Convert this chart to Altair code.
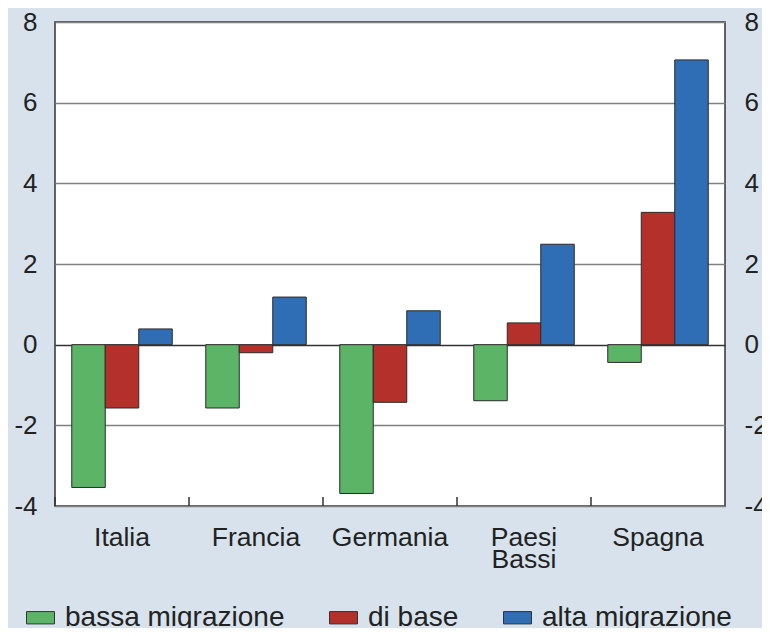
import altair as alt
import pandas as pd

paesi = ["Italia", "Francia", "Germania", "Paesi Bassi", "Spagna"]
scenari = ["bassa migrazione", "di base", "alta migrazione"]
bassa = [-3.54, -1.57, -3.69, -1.39, -0.44]
base = [-1.57, -0.20, -1.43, 0.54, 3.28]
alta = [0.39, 1.18, 0.84, 2.49, 7.06]
y_ticks = [-4, -2, 0, 2, 4, 6, 8]
colori = ["#5cb567", "#b3302b", "#2f6db5"]

rows = []
for i, p in enumerate(paesi):
    for s, vals in zip(scenari, [bassa, base, alta]):
        rows.append({"paese": p, "scenario": s, "valore": vals[i]})
df = pd.DataFrame(rows)
df_paesi = pd.DataFrame({"paese": paesi})

FONT = "Liberation Sans"
TXT = "#222222"
W, H = 670, 484
STEP = W / 5
GAP = 0.125 * STEP

xscale = alt.Scale(domain=paesi, paddingInner=0.25, paddingOuter=0.125)
yscale = alt.Scale(domain=[-4, 8], nice=False, zero=False)

x_axis = alt.Axis(
    title=None, labelAngle=0, ticks=False, domain=False, grid=False,
    labelFontSize=26.5, labelPadding=18, labelLineHeight=22,
    labelBaseline="top", labelLimit=0,
    labelExpr="datum.label == 'Paesi Bassi' ? ['Paesi', 'Bassi'] : datum.label",
)

bars = alt.Chart(df).mark_bar(stroke="#2b2b2b", strokeWidth=1, opacity=1).encode(
    x=alt.X("paese:N", scale=xscale, sort=paesi, axis=x_axis),
    xOffset=alt.XOffset("scenario:N", sort=scenari,
                        scale=alt.Scale(domain=scenari, paddingInner=0, paddingOuter=0)),
    y=alt.Y(
        "valore:Q", scale=yscale,
        axis=alt.Axis(
            title=None, orient="left", values=y_ticks, grid=True,
            gridColor=alt.condition("datum.value === 0", alt.value("#333333"), alt.value("#808080")),
            gridWidth=1.5, ticks=False, domain=False, labelPadding=18, labelFontSize=26,
            labelExpr="datum.value + ''",
        ),
    ),
    color=alt.Color(
        "scenario:N", sort=scenari, scale=alt.Scale(domain=scenari, range=colori),
        legend=alt.Legend(
            title=None, orient="none", legendX=-29, legendY=581, direction="horizontal",
            symbolType="M-1,-0.44H1V0.44H-1Z", symbolSize=784,
            symbolStrokeColor="#333333", symbolStrokeWidth=1, symbolOpacity=1,
            labelFontSize=28, labelOffset=10, columnPadding=42, labelLimit=0,
            labelFont=FONT, labelColor=TXT,
        ),
    ),
)

right = alt.Chart(df).mark_bar(opacity=0).encode(
    x=alt.X("paese:N", scale=xscale, sort=paesi, axis=x_axis),
    xOffset=alt.XOffset("scenario:N", sort=scenari),
    y=alt.Y(
        "valore:Q", scale=yscale,
        axis=alt.Axis(
            title=None, orient="right", values=y_ticks, grid=False,
            ticks=False, domain=False, labelPadding=19, labelFontSize=26,
            labelExpr="datum.value + ''",
        ),
    ),
)

ticks = alt.Chart(df_paesi).mark_rule(color="#333333", strokeWidth=1.5, xOffset=-GAP).encode(
    x=alt.X("paese:N", scale=xscale, sort=paesi, axis=x_axis, bandPosition=0),
    y=alt.value(H),
    y2=alt.value(H - 9),
)

chart = (
    alt.layer(bars, right, ticks)
    .resolve_axis(y="independent")
    .properties(
        width=W, height=H,
        autosize=alt.AutoSizeParams(type="none"),
        padding={"left": 47, "top": 14, "right": 37, "bottom": 122},
        background="#d7e2ec",
    )
    .configure_view(fill="white", stroke="#333333", strokeWidth=1.5)
    .configure_axis(labelFont=FONT, labelColor=TXT)
)

chart.save("out.html", embed_options={"renderer": "svg", "actions": False})
